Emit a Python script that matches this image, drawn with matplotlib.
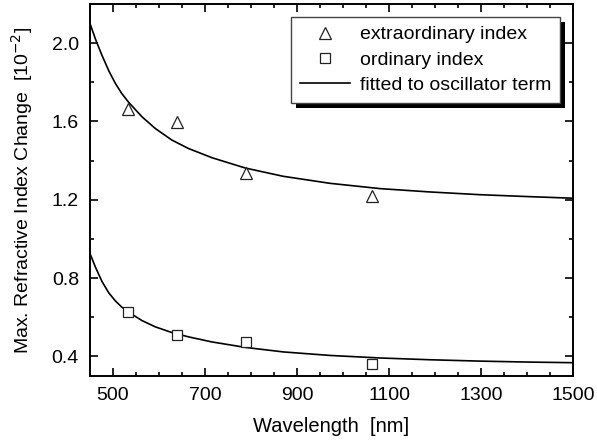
import matplotlib
matplotlib.use("Agg")
import matplotlib.pyplot as plt
from matplotlib.patches import Rectangle
from matplotlib.transforms import IdentityTransform
from matplotlib.ticker import MultipleLocator

plt.rcParams['font.family'] = ['Liberation Sans', 'DejaVu Sans']

# measured points
wl_pts = [532, 640, 790, 1064]
extra_idx = [1.665, 1.597, 1.335, 1.22]
ord_idx = [0.628, 0.51, 0.474, 0.359]

# fitted curves
wl_fit = [450, 462, 476, 491, 505, 519, 534, 563, 592, 628, 664, 715, 788, 870, 972,
          1081, 1189, 1298, 1406, 1500]
extra_fit = [2.10, 2.02, 1.938, 1.858, 1.795, 1.743, 1.698, 1.624, 1.564, 1.505, 1.462, 1.415,
             1.362, 1.320, 1.284, 1.257, 1.240, 1.226, 1.216, 1.208]
ord_fit = [0.925, 0.855, 0.783, 0.724, 0.684, 0.652, 0.626, 0.583, 0.551, 0.522, 0.50, 0.474,
           0.446, 0.423, 0.405, 0.392, 0.383, 0.376, 0.371, 0.368]

fig = plt.figure(figsize=(5.97, 4.43), dpi=100)
ax = fig.add_axes([90/597, 1-376/443, (573-90)/597, (376-4)/443])

ax.plot(wl_fit, extra_fit, color='black', lw=1.2, label='fitted to oscillator term', zorder=2)
ax.plot(wl_fit, ord_fit, color='black', lw=1.2, zorder=2)
ax.plot(wl_pts, extra_idx, linestyle='none', marker='^', ms=9, mfc='white', mec='#222222', mew=0.9,
        label='extraordinary index', zorder=3)
ax.plot(wl_pts, ord_idx, linestyle='none', marker='s', ms=7, mfc='white', mec='#222222', mew=0.9,
        label='ordinary index', zorder=3)

ax.set_xlim(450, 1500)
ax.set_ylim(0.3, 2.2)
ax.xaxis.set_minor_locator(MultipleLocator(50))
ax.set_xticks([500, 700, 900, 1100, 1300, 1500])
ax.yaxis.set_minor_locator(MultipleLocator(0.2))
ax.set_yticks([0.4, 0.8, 1.2, 1.6, 2.0])
ax.set_yticklabels(['0.4', '0.8', '1.2', '1.6', '2.0'])
ax.tick_params(which='both', direction='in', top=True, right=True, labelsize=14, width=1.2)
ax.tick_params(which='major', length=6, pad=8)
ax.tick_params(which='minor', length=3)
for s in ax.spines.values():
    s.set_linewidth(1.4)

ax.set_xlabel('Wavelength  [nm]', fontsize=14.5, labelpad=9)
ax.set_ylabel('Max. Refractive Index Change  [10$^{-2}$]', fontsize=14, labelpad=12)

handles, labels = ax.get_legend_handles_labels()
order = [1, 2, 0]
leg = ax.legend([handles[i] for i in order], [labels[i] for i in order],
                loc='upper left', bbox_to_anchor=((291-90)/483, 1-(17-4)/372),
                fontsize=14, frameon=True, fancybox=False, edgecolor='#444444',
                facecolor='white', framealpha=1.0,
                handlelength=2.6, handletextpad=0.5, borderpad=0.45, labelspacing=0.4,
                borderaxespad=0)
leg.get_frame().set_linewidth(1.0)
leg.set_zorder(5)
fig.canvas.draw()
bb = leg.get_window_extent()
shadow = Rectangle((bb.x0 + 5, bb.y0 - 5), bb.width, bb.height, transform=IdentityTransform(),
                   facecolor='black', edgecolor='none', zorder=4, clip_on=False)
ax.add_patch(shadow)
fig.savefig('out.png', dpi=100)
